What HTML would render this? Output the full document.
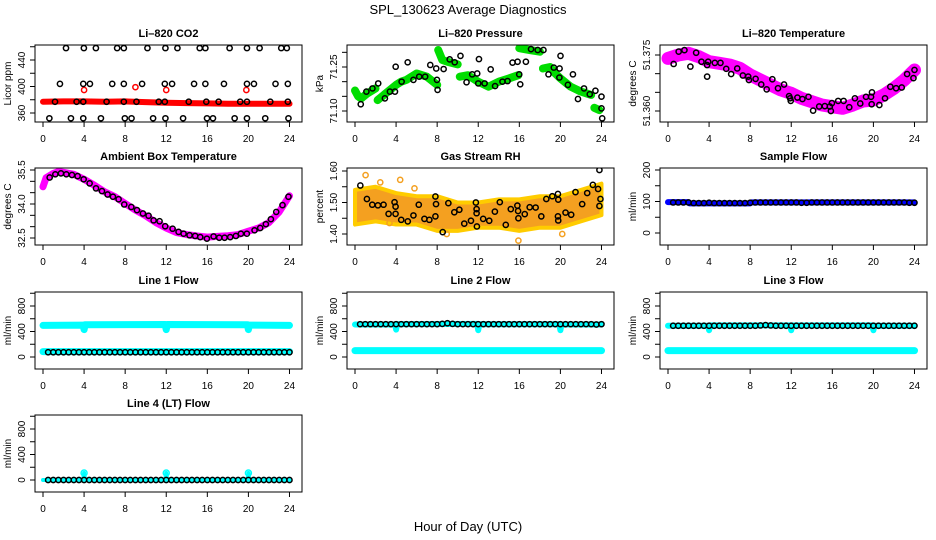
<!DOCTYPE html>
<html><head><meta charset="utf-8"><style>
html,body{margin:0;padding:0;background:#fff;}
svg{display:block;font-family:"Liberation Sans",sans-serif;}
</style></head><body>
<svg id="chart" width="936" height="540" viewBox="0 0 936 540" xmlns="http://www.w3.org/2000/svg">
<rect x="0" y="0" width="936" height="540" fill="#fff"/>
<text x="468" y="14" text-anchor="middle" font-size="13">SPL_130623  Average Diagnostics</text>
<text x="468" y="531" text-anchor="middle" font-size="13">Hour of Day (UTC)</text>
</svg>
<script>
// ---- data ----
const xTicks = [0,4,8,12,16,20,24];
const halfHours = [0.5,1,1.5,2,2.5,3,3.5,4,4.5,5,5.5,6,6.5,7,7.5,8,8.5,9,9.5,10,10.5,11,11.5,12,12.5,13,13.5,14,14.5,15,15.5,16,16.5,17,17.5,18,18.5,19,19.5,20,20.5,21,21.5,22,22.5,23,23.5,24];

// CO2
const co2RedHours = [0,2,4,6,8,10,12,14,16,18,20,22,24];
const co2RedVals = [377,377.5,377.5,377,377.5,376.5,375.5,375,374.5,374,374,374,374];
const co2RedOutHours = [4,9,12,19.8];
const co2RedOutVals = [394.7,399,394.7,394.7];
const co2BlackHours = [2.24,3.98,5.15,7.22,7.87,10.17,11.92,13.09,15.26,15.81,18.17,19.86,21.09,23.2,23.74,
 1.65,3.92,4.57,6.74,7.87,9.65,11.86,12.57,14.71,15.81,17.62,19.86,20.54,22.64,23.84,
 1.17,3.27,3.92,6.19,7.87,9.1,11.27,11.86,14.19,15.9,17.1,19.2,19.86,22.13,23.84,
 0.62,2.72,3.92,5.64,7.97,8.62,10.72,11.92,13.64,15.97,16.55,18.66,19.86,21.64,23.9];
const co2BlackVals = [458,458,458,458,458,458,458,458,458,458,458,458,458,458,458,
 404,404,404,404,404,404,404,404,404,404,404,404,404,404,404,
 377,377,377,377,377,377,377,377,377,377,377,377,377,377,377,
 352,352,352,352,352,352,352,352,352,352,352,352,352,352,352];

// Pressure
const presGreenSegHours = [[0,0.3,0.6,1.2,2],[2.2,3,4,4.5,5,6,7,8],[8.1,8.5,9,10],[10.2,11,12,13,14,15,15.9],[16,17,18],[18.3,19,19.5,20,21,22,23],[23.3,23.8]];
const presGreenSegVals = [[71.17,71.15,71.143,71.16,71.177],[71.137,71.16,71.189,71.2,71.206,71.228,71.217,71.189],[71.308,71.274,71.268,71.259],[71.217,71.222,71.2,71.183,71.2,71.211,71.222],[71.314,71.308,71.302],[71.245,71.25,71.228,71.211,71.183,71.166,71.155],[71.111,71.103]];
const presBlackHours = [0.56,1.11,1.70,2.26,2.91,3.40,3.89,3.96,4.54,5.13,5.69,6.25,6.83,7.33,7.91,7.98,8.04,8.63,9.22,9.71,10.27,10.86,11.41,11.90,12.07,12.0,12.62,13.21,13.64,14.36,14.85,15.34,15.83,15.99,16.09,16.64,17.14,17.79,18.35,18.84,19.36,19.92,20.01,19.9,20.73,21.22,21.71,22.30,22.86,23.41,24.0,24.0,24.07];
const presBlackVals = [71.123,71.166,71.177,71.194,71.143,71.166,71.166,71.251,71.200,71.266,71.206,71.217,71.217,71.257,71.245,71.206,71.172,71.243,71.276,71.266,71.288,71.198,71.225,71.228,71.277,71.194,71.194,71.242,71.185,71.200,71.202,71.265,71.268,71.225,71.191,71.268,71.311,71.308,71.308,71.225,71.248,71.245,71.288,71.214,71.189,71.225,71.141,71.177,71.157,71.169,71.149,71.109,71.075];

// Li-820 temperature
const tempMagHours = [0,1,2,3,4,5,6,7,8,9,10,11,12,13,14,15,16,17,18,19,20,21,22,23,24];
const tempMagVals = [51.3741,51.3750,51.37545,51.37455,51.37321,51.37277,51.37232,51.37143,51.36964,51.36830,51.36696,51.36563,51.36473,51.36339,51.36250,51.36161,51.36116,51.36071,51.36161,51.36268,51.36295,51.36429,51.36607,51.36830,51.37098];
const tempBlackHours = [0.55,1.04,1.60,2.18,2.74,3.26,3.81,3.91,3.81,4.56,5.11,5.67,6.15,6.74,7.29,7.81,7.88,8.53,9.08,9.61,10.16,10.71,11.30,11.79,11.89,11.95,12.60,13.09,13.68,14.13,14.72,15.27,15.76,15.86,15.96,16.57,17.10,17.65,18.20,18.72,19.28,19.77,19.86,19.83,20.58,21.13,21.65,22.21,22.76,23.28,23.90,24.0];
const tempBlackVals = [51.3726,51.3759,51.3763,51.3719,51.3756,51.3732,51.3723,51.3732,51.3692,51.3729,51.3729,51.3713,51.3699,51.3714,51.3695,51.3692,51.3683,51.3686,51.3671,51.3658,51.3685,51.3661,51.3671,51.3640,51.3634,51.3627,51.3636,51.3632,51.3638,51.3601,51.3612,51.3613,51.3612,51.3600,51.3621,51.3627,51.3627,51.3610,51.3634,51.3620,51.3638,51.3638,51.3650,51.3618,51.3616,51.3634,51.3665,51.3661,51.3663,51.3699,51.3688,51.3710];

// Ambient box temperature
const ambMagHours = [0,0.3,1,1.5,2,3,4,5,6,7,8,9,10,11,12,13,14,15,16,17,18,19,20,21,22,23,24];
const ambMagVals = [34.76,35.16,35.35,35.43,35.40,35.31,35.09,34.83,34.54,34.32,34.02,33.73,33.48,33.18,32.94,32.74,32.65,32.59,32.54,32.57,32.60,32.65,32.80,32.94,33.18,33.65,34.36];
const ambBlackHours = [0.65,1.20,1.75,2.27,2.82,3.37,3.96,4.54,5.16,5.74,6.29,6.81,7.36,7.91,8.60,9.15,9.73,10.28,10.77,11.35,11.90,12.62,13.20,13.69,14.27,14.82,15.31,15.96,16.61,17.16,17.68,18.23,18.78,19.27,19.85,20.60,21.15,21.70,22.19,22.71,23.32,23.90];
const ambBlackVals = [35.17,35.31,35.35,35.31,35.28,35.23,35.09,34.91,34.69,34.57,34.42,34.32,34.21,33.98,33.87,33.73,33.58,33.48,33.28,33.24,33.02,32.91,32.77,32.69,32.62,32.59,32.54,32.47,32.57,32.51,32.51,32.54,32.59,32.69,32.69,32.84,32.94,33.11,33.33,33.65,33.95,34.32];

// Gas stream RH
const rhBandHours = [0,2,4,6,8,10,12,14,16,18,20,22,24];
const rhBandUpper = [1.54,1.55,1.53,1.52,1.52,1.50,1.50,1.51,1.51,1.52,1.52,1.54,1.56];
const rhBandLower = [1.43,1.44,1.43,1.43,1.41,1.41,1.42,1.42,1.41,1.42,1.42,1.44,1.46];
const rhOutHours = [1.03,2.46,4.40,5.79,15.91,8.93,3.36,20.18];
const rhOutVals = [1.587,1.564,1.572,1.545,1.379,1.40,1.435,1.40];
const rhBlackHours = [0.52,1.16,1.68,2.23,2.78,3.27,3.85,3.95,3.95,4.50,5.14,5.69,6.21,6.76,7.24,7.83,7.89,7.83,8.54,9.09,9.67,10.16,10.64,11.29,11.87,11.77,11.84,11.84,12.48,13.07,13.62,14.10,14.68,15.17,15.81,15.88,15.91,16.53,17.01,17.59,18.14,18.63,19.21,19.76,19.79,19.76,19.79,20.50,21.05,21.47,22.12,22.61,23.16,23.67,23.80,23.90,23.80];
const rhBlackVals = [1.554,1.511,1.493,1.491,1.493,1.464,1.501,1.487,1.464,1.445,1.440,1.459,1.493,1.448,1.445,1.519,1.495,1.456,1.406,1.498,1.469,1.477,1.433,1.442,1.424,1.500,1.479,1.466,1.448,1.442,1.471,1.501,1.429,1.479,1.490,1.473,1.450,1.463,1.485,1.484,1.456,1.511,1.520,1.527,1.509,1.456,1.443,1.468,1.461,1.533,1.495,1.530,1.556,1.543,1.489,1.511,1.603];

// Sample flow
const sampleBlueHours = [0,2,2.1,8,8.1,24];
const sampleBlueVals = [98,98,94,94,97,97];
const sampleBlackVals = [97,97,97,97,95,95,95,96,95,95,95,95,95,95,95,96,97,97,97,97,97,97,97,97,97,96,96,97,97,97,97,97,97,97,97,97,97,97,97,97,97,97,97,97,97,97,96,96];

// Line flows
const l1CyanUpperHours = [0,3.9,4,4.1,11.9,12,12.1,19.9,20,20.1,24];
const l1CyanUpperVals = [495,500,430,505,510,430,510,505,430,500,495];
const l1CyanLowerHours = [0,24];
const l1CyanLowerVals = [85,85];
const l1BlackVals = [75,75,75,75,75,75,75,75,75,75,75,75,75,75,75,75,75,75,75,75,75,75,75,75,75,75,75,75,75,75,75,75,75,75,75,75,75,75,75,75,75,75,75,75,75,75,75,75];

const l2CyanUpperHours = [0,3.9,4,4.1,11.9,12,12.1,19.9,20,20.1,24];
const l2CyanUpperVals = [510,510,430,515,520,420,515,515,420,510,510];
const l2CyanLowerHours = [0,24];
const l2CyanLowerVals = [100,100];
const l2BlackVals = [515,515,515,515,515,515,515,515,515,515,515,515,515,515,515,515,520,530,520,515,515,515,515,515,515,515,515,515,515,515,515,515,515,515,515,515,515,515,515,515,515,515,515,515,515,515,510,515];

const l3CyanUpperHours = [0,3.9,4,4.1,11.9,12,12.1,19.9,20,20.1,24];
const l3CyanUpperVals = [490,490,420,495,495,420,495,495,420,490,490];
const l3CyanLowerHours = [0,24];
const l3CyanLowerVals = [100,100];
const l3BlackVals = [490,490,490,490,490,490,490,490,490,490,490,490,490,490,490,490,490,495,500,495,490,490,490,490,490,490,490,490,490,490,490,490,490,490,490,490,490,490,490,490,490,490,490,490,490,490,490,490];

const l4CyanHours = [0,3.9,4,4.1,11.9,12,12.1,19.9,20,20.1,24];
const l4CyanVals = [0,0,110,0,0,110,0,0,110,0,0];
const l4BlackVals = [0,0,0,0,0,0,0,0,0,0,0,0,0,0,0,0,0,0,0,0,0,0,0,0,0,0,0,0,0,0,0,0,0,0,0,0,0,0,0,0,0,0,0,0,0,0,0,0];

// ---- drawing ----
const NS = "http://www.w3.org/2000/svg";
const svg = document.getElementById('chart');
const X0 = [43,355,668];
const XS = 10.27;
const ROWT = [45,168,292,415];
const BH = 77;

function mk(tag, attrs, parent) {
  const e = document.createElementNS(NS, tag);
  for (const k in attrs) e.setAttribute(k, attrs[k]);
  (parent || svg).appendChild(e);
  return e;
}
function lin(v1,p1,v2,p2){ return v => p1 + (v - v1) * (p2 - p1) / (v2 - v1); }

function panel(cfg) {
  const g = mk('g', {});
  
  
  const T = ROWT[cfg.row];
  const x0 = X0[cfg.col];
  const xs = h => x0 + h * XS;
  const ys = lin(cfg.v1, T + cfg.p1, cfg.v2, T + cfg.p2);
  const left = x0 - 8, right = x0 + 259, bottom = T + BH;
  const clipId = 'clip-' + cfg.name;
  const cp = mk('clipPath', {id: clipId}, g);
  mk('rect', {x: left, y: T, width: right - left, height: BH}, cp);
  const marks = mk('g', {'clip-path': 'url(#' + clipId + ')'}, g);
  
  
  cfg.draw(marks, xs, ys);
  const box = mk('rect', {x: left, y: T, width: right - left, height: BH, fill: 'none', stroke: '#000', 'stroke-width': 1}, g);
  
  
  const t = mk('text', {x: (left + right) / 2, y: T - 8, 'text-anchor': 'middle', 'font-size': 11, 'font-weight': 'bold'}, g);
  t.textContent = cfg.title;
  
  
  // x axis
  xTicks.forEach(h => {
    const tk = mk('line', {x1: xs(h), x2: xs(h), y1: bottom, y2: bottom + 5, stroke: '#000'}, g);
    
    
    const lb = mk('text', {x: xs(h), y: bottom + 20, 'text-anchor': 'middle', 'font-size': 10}, g);
    lb.textContent = h;
    
    
  });
  // y axis
  cfg.yTicks.forEach(v => {
    const tk = mk('line', {x1: left - 5, x2: left, y1: ys(v), y2: ys(v), stroke: '#000'}, g);
    
    
  });
  cfg.yLabels.forEach(s => {
    const y = ys(parseFloat(s));
    const lb = mk('text', {x: left - 10, y: y, 'text-anchor': 'middle', 'font-size': 10, transform: 'rotate(-90 ' + (left - 10) + ' ' + y + ')'}, g);
    lb.textContent = s;
    
    
  });
  const yt = mk('text', {x: left - 24, y: T + BH / 2, 'text-anchor': 'middle', 'font-size': 10, transform: 'rotate(-90 ' + (left - 24) + ' ' + (T + BH / 2) + ')'}, g);
  yt.textContent = cfg.ylab;
  
  
}

function band(g, xs, ys, hours, vals, color, w, name) {
  let d = '';
  hours.forEach((h, i) => { d += (i ? 'L' : 'M') + xs(h).toFixed(1) + ' ' + ys(vals[i]).toFixed(1); });
  const p = mk('path', {d: d, fill: 'none', stroke: color, 'stroke-width': w, 'stroke-linecap': 'round', 'stroke-linejoin': 'round'}, g);
  
  
}
function pts(g, xs, ys, hours, vals, color, name, r) {
  hours.forEach((h, i) => {
    const c = mk('circle', {cx: xs(h), cy: ys(vals[i]), r: r || 2.6, fill: 'none', stroke: color, 'stroke-width': 1.5}, g);
    
    
  });
}

panel({name: 'co2', title: 'Li\u2013820 CO2', ylab: 'Licor ppm', row: 0, col: 0, v1: 360, p1: 68, v2: 440, p2: 15,
  yTicks: [360,380,400,420,440,460], yLabels: ['360','400','440'],
  draw: (g, xs, ys) => {
    band(g, xs, ys, co2RedHours, co2RedVals, '#ff0000', 6, 'co2-red-series');
    pts(g, xs, ys, co2RedOutHours, co2RedOutVals, '#ff0000', 'co2-red-point');
    pts(g, xs, ys, co2BlackHours, co2BlackVals, '#000', 'co2-black-point');
  }});

panel({name: 'pressure', title: 'Li\u2013820 Pressure', ylab: 'kPa', row: 0, col: 1, v1: 71.10, p1: 66, v2: 71.25, p2: 22,
  yTicks: [71.10,71.15,71.20,71.25,71.30], yLabels: ['71.10','71.25'],
  draw: (g, xs, ys) => {
    presGreenSegHours.forEach((hs, i) => band(g, xs, ys, hs, presGreenSegVals[i], '#00dd00', 8, 'pressure-green-series'));
    pts(g, xs, ys, presBlackHours, presBlackVals, '#000', 'pressure-black-point');
  }});

panel({name: 'li820-temp', title: 'Li\u2013820 Temperature', ylab: 'degrees C', row: 0, col: 2, v1: 51.375, p1: 10, v2: 51.360, p2: 66,
  yTicks: [51.360,51.365,51.370,51.375], yLabels: ['51.360','51.375'],
  draw: (g, xs, ys) => {
    band(g, xs, ys, tempMagHours, tempMagVals, '#ff00ff', 13, 'temp-magenta-series');
    pts(g, xs, ys, tempBlackHours, tempBlackVals, '#000', 'temp-black-point');
  }});

panel({name: 'ambient-temp', title: 'Ambient Box Temperature', ylab: 'degrees C', row: 1, col: 0, v1: 35.5, p1: 2, v2: 32.5, p2: 70,
  yTicks: [32.5,33,33.5,34,34.5,35,35.5], yLabels: ['32.5','34.0','35.5'],
  draw: (g, xs, ys) => {
    band(g, xs, ys, ambMagHours, ambMagVals, '#ff00ff', 7, 'ambient-magenta-series');
    pts(g, xs, ys, ambBlackHours, ambBlackVals, '#000', 'ambient-black-point');
  }});

panel({name: 'rh', title: 'Gas Stream RH', ylab: 'percent', row: 1, col: 1, v1: 1.60, p1: 3, v2: 1.40, p2: 66,
  yTicks: [1.40,1.45,1.50,1.55,1.60], yLabels: ['1.40','1.50','1.60'],
  draw: (g, xs, ys) => {
    let d = '';
    rhBandHours.forEach((h, i) => { d += (i ? 'L' : 'M') + xs(h) + ' ' + ys(rhBandUpper[i]); });
    for (let i = rhBandHours.length - 1; i >= 0; i--) d += 'L' + xs(rhBandHours[i]) + ' ' + ys(rhBandLower[i]);
    const p = mk('path', {d: d + 'Z', fill: '#f4a020', stroke: '#ffcc00', 'stroke-width': 4, 'stroke-linejoin': 'round'}, g);
    
    
    pts(g, xs, ys, rhOutHours, rhOutVals, '#f4a020', 'rh-orange-point');
    pts(g, xs, ys, rhBlackHours, rhBlackVals, '#000', 'rh-black-point');
  }});

panel({name: 'sample-flow', title: 'Sample Flow', ylab: 'ml/min', row: 1, col: 2, v1: 200, p1: 2, v2: 0, p2: 65,
  yTicks: [0,50,100,150,200], yLabels: ['0','100','200'],
  draw: (g, xs, ys) => {
    band(g, xs, ys, sampleBlueHours, sampleBlueVals, '#0000ff', 6, 'sample-blue-series');
    pts(g, xs, ys, halfHours, sampleBlackVals, '#000', 'sample-black-point');
  }});

const flowCfg = {v1: 0, p1: 65, v2: 800, p2: 14, yTicks: [0,200,400,600,800,1000], yLabels: ['0','400','800'], ylab: 'ml/min'};

panel(Object.assign({name: 'line1-flow', title: 'Line 1 Flow', row: 2, col: 0,
  draw: (g, xs, ys) => {
    band(g, xs, ys, l1CyanUpperHours, l1CyanUpperVals, '#00ffff', 7, 'line1-cyan-upper');
    band(g, xs, ys, l1CyanLowerHours, l1CyanLowerVals, '#00ffff', 7, 'line1-cyan-lower');
    pts(g, xs, ys, halfHours, l1BlackVals, '#000', 'line1-black-point');
  }}, flowCfg));

panel(Object.assign({name: 'line2-flow', title: 'Line 2 Flow', row: 2, col: 1,
  draw: (g, xs, ys) => {
    band(g, xs, ys, l2CyanUpperHours, l2CyanUpperVals, '#00ffff', 6, 'line2-cyan-upper');
    band(g, xs, ys, l2CyanLowerHours, l2CyanLowerVals, '#00ffff', 7, 'line2-cyan-lower');
    pts(g, xs, ys, halfHours, l2BlackVals, '#000', 'line2-black-point');
  }}, flowCfg));

panel(Object.assign({name: 'line3-flow', title: 'Line 3 Flow', row: 2, col: 2,
  draw: (g, xs, ys) => {
    band(g, xs, ys, l3CyanUpperHours, l3CyanUpperVals, '#00ffff', 6, 'line3-cyan-upper');
    band(g, xs, ys, l3CyanLowerHours, l3CyanLowerVals, '#00ffff', 7, 'line3-cyan-lower');
    pts(g, xs, ys, halfHours, l3BlackVals, '#000', 'line3-black-point');
  }}, flowCfg));

panel(Object.assign({name: 'line4-flow', title: 'Line 4 (LT) Flow', row: 3, col: 0,
  draw: (g, xs, ys) => {
    band(g, xs, ys, l4CyanHours, l4CyanVals, '#00ffff', 4, 'line4-cyan-series');
    pts(g, xs, ys, l4CyanHours.filter((h, i) => l4CyanVals[i] > 50), l4CyanVals.filter(v => v > 50), '#00ffff', 'line4-cyan-point', 3);
    pts(g, xs, ys, halfHours, l4BlackVals, '#000', 'line4-black-point');
  }}, flowCfg));
</script>
</body></html>
